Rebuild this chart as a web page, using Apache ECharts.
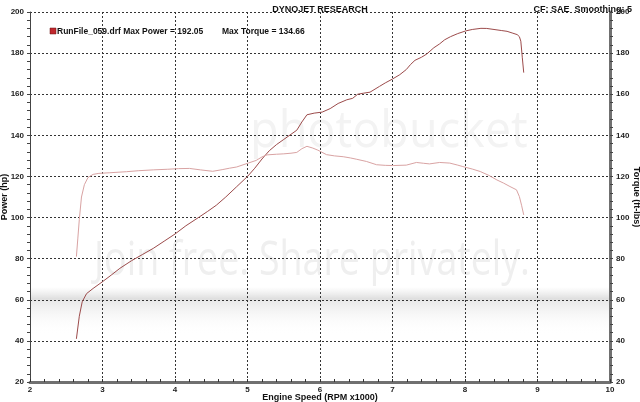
<!DOCTYPE html>
<html>
<head>
<meta charset="utf-8">
<script src="https://cdn.jsdelivr.net/npm/echarts@6/dist/echarts.min.js"></script>
<style>html,body{margin:0;padding:0;background:#fff}#c{width:640px;height:402px}</style>
</head>
<body>
<div id="c"></div>
<script>
const xTicks = [2, 3, 4, 5, 6, 7, 8, 9, 10];
const yTicks = [20, 40, 60, 80, 100, 120, 140, 160, 180, 200];
const powerRpm = [2.64,2.68,2.72,2.78,2.87,3.00,3.12,3.24,3.40,3.55,3.70,3.85,4.00,4.15,4.34,4.45,4.57,4.70,4.85,5.00,5.10,5.20,5.30,5.40,5.50,5.60,5.68,5.75,5.82,5.92,6.03,6.14,6.25,6.37,6.45,6.52,6.60,6.69,6.82,6.90,7.00,7.10,7.19,7.25,7.31,7.40,7.47,7.57,7.65,7.72,7.80,7.90,8.01,8.10,8.22,8.30,8.40,8.50,8.58,8.65,8.72,8.75,8.77,8.79,8.81];
const powerHp = [41,52,59,63,65.5,68.8,72,75.3,79,82,85,88.5,92,96,100.4,103,106,110,115,120,124,128.5,132.5,135.5,138,140.5,142.5,146.5,150,150.8,151.3,153,155.5,157.3,158,160,160.5,161,163.8,165.5,167.4,169.5,172,174.5,176.5,178,179.5,182.6,184.5,186.5,188,189.5,190.8,191.5,192.05,192,191.5,191,190.6,189.8,189,188,185.8,178,170.5];
const torqueRpm = [2.64,2.66,2.68,2.71,2.75,2.80,2.87,2.95,3.10,3.33,3.50,3.70,3.90,4.05,4.20,4.35,4.52,4.65,4.75,4.85,5.01,5.12,5.20,5.27,5.40,5.50,5.60,5.68,5.75,5.82,5.90,5.97,6.09,6.20,6.32,6.42,6.50,6.64,6.78,6.90,7.01,7.19,7.33,7.43,7.51,7.65,7.79,7.90,7.97,8.10,8.21,8.33,8.44,8.53,8.62,8.71,8.75,8.78,8.81];
const torqueFtLbs = [81,90,99,110,116,119.5,121,121.5,121.8,122.3,122.8,123.2,123.5,123.8,123.9,123.2,122.5,123.3,124,124.6,126.5,127.8,129.5,130.5,130.8,131,131.3,131.7,133.5,134.66,133.8,132.8,130.6,130,129.6,129,128.4,127.3,125.7,125.4,125.3,125.5,126.8,126.4,126.1,126.8,126.5,125.5,124.8,123.6,122.4,120.5,118.3,116.8,115.1,113.5,110.2,106,101.3];

const FONT = 'Liberation Sans';
const chart = echarts.init(document.getElementById('c'), null, {renderer: 'canvas'});
const gridStyle = {color: '#333', width: 1, type: [2, 2]};
const labelStyle = {fontFamily: FONT, fontSize: 8, fontWeight: 'bold', color: '#222'};
const nameStyle = {fontFamily: FONT, fontSize: 9, fontWeight: 'bold', color: '#111'};

function yAxis(pos, name, thick, gap) {
  return {
    type: 'value', position: pos, min: yTicks[0], max: yTicks[yTicks.length - 1], interval: 20,
    name: name, nameLocation: 'middle', nameGap: gap, nameRotate: pos === 'left' ? 90 : -90,
    nameMoveOverlap: false,
    nameTextStyle: nameStyle,
    axisLine: {show: true, lineStyle: {color: thick ? '#707070' : '#444', width: thick ? 3 : 1}},
    axisTick: {show: true, length: 3, lineStyle: {color: '#444'}},
    minorTick: {show: true, splitNumber: 5, length: 3, lineStyle: {color: '#444'}},
    axisLabel: Object.assign({margin: 6}, labelStyle),
    splitLine: {show: pos === 'left', lineStyle: gridStyle}
  };
}

chart.setOption({
  animation: false,
  backgroundColor: '#fff',
  grid: {left: 30, right: 30, top: 12, bottom: 20, containLabel: false, outerBoundsMode: 'none'},
  title: [
    {text: 'DYNOJET RESEARCH', left: 'center', top: 0, textStyle: {fontFamily: FONT, fontSize: 9, fontWeight: 'bold', color: '#111'}},
    {text: 'CF: SAE  Smoothing: 5', right: 3, top: 0, textStyle: {fontFamily: FONT, fontSize: 9, fontWeight: 'bold', color: '#111'}}
  ],
  graphic: [
    {type: 'rect', z: -5, shape: {x: 30, y: 287, width: 580, height: 48},
     style: {fill: new echarts.graphic.LinearGradient(0, 0, 0, 1, [
       {offset: 0, color: 'rgba(230,230,230,0)'},
       {offset: 0.25, color: 'rgba(222,222,222,1)'},
       {offset: 0.3, color: 'rgba(234,234,234,1)'},
       {offset: 1, color: 'rgba(255,255,255,0)'}])}},
    {type: 'text', z: -4, x: 250, y: 106, scaleX: 0.9, style: {text: 'photobucket', font: '52px "Open Sans"', fill: '#f3f3f3'}},
    {type: 'text', z: -4, x: 94, y: 238, scaleX: 0.8, style: {text: 'Join free. Share privately.', font: '47px "Open Sans"', fill: '#efefef'}},
    {type: 'rect', shape: {x: 50, y: 28, width: 6, height: 6}, style: {fill: '#c0282e', stroke: '#6a1010', lineWidth: 0.5}},
    {type: 'text', x: 57, y: 27, style: {text: 'RunFile_059.drf Max Power = 192.05', font: 'bold 8.5px "Liberation Sans"', fill: '#111'}},
    {type: 'text', x: 222, y: 27, style: {text: 'Max Torque = 134.66', font: 'bold 8.5px "Liberation Sans"', fill: '#111'}}
  ],
  xAxis: {
    type: 'value', min: xTicks[0], max: xTicks[xTicks.length - 1], interval: 1,
    name: 'Engine Speed (RPM x1000)', nameLocation: 'middle', nameGap: 11, nameTextStyle: nameStyle,
    nameMoveOverlap: false,
    axisLine: {show: true, onZero: false, lineStyle: {color: '#707070', width: 3}},
    axisTick: {show: true, inside: true, length: 3, lineStyle: {color: '#333'}},
    minorTick: {show: true, splitNumber: 5, length: 3, lineStyle: {color: '#333'}},
    axisLabel: Object.assign({margin: 4}, labelStyle),
    splitLine: {show: true, lineStyle: gridStyle}
  },
  yAxis: [yAxis('left', 'Power (hp)', false, 20.5), yAxis('right', 'Torque (ft-lbs)', true, 22)],
  series: [
    {name: 'Power', type: 'line', yAxisIndex: 0, showSymbol: false, smooth: false,
     lineStyle: {color: '#9c4b4b', width: 1}, data: powerRpm.map((r, i) => [r, powerHp[i]])},
    {name: 'Torque', type: 'line', yAxisIndex: 1, showSymbol: false, smooth: false,
     lineStyle: {color: '#d9a3a3', width: 1}, data: torqueRpm.map((r, i) => [r, torqueFtLbs[i]])}
  ]
});
</script>
</body>
</html>
